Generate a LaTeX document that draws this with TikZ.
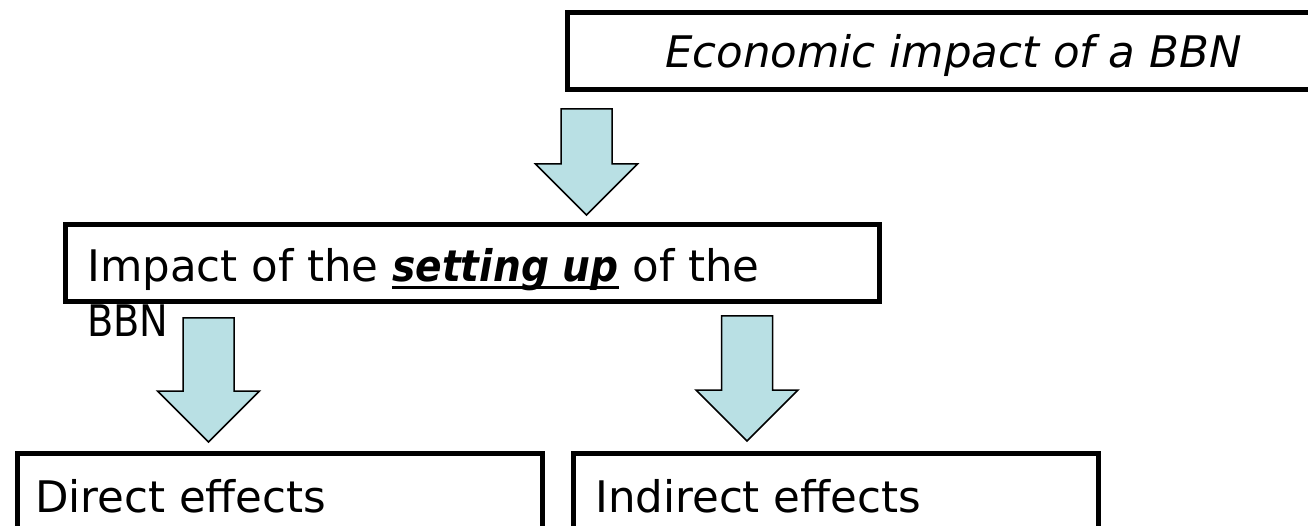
\documentclass[tikz,border=0pt]{standalone}
\usepackage{graphicx}
\usepackage{fontspec}
\setmainfont{DejaVu Sans}
\definecolor{arrowfill}{RGB}{185,224,228}
\newcommand\thickul[1]{\setbox0\hbox{#1}\rlap{\rule[-7pt]{\wd0}{3pt}}\box0\relax}
\tikzset{
  box/.style={draw=black, line width=5pt, fill=white, inner sep=0pt},
  txt/.style={inner sep=0pt, font=\fontsize{43.5}{55}\selectfont, align=left},
  pics/blockarrow/.style={code={
    \draw[black, line width=1.5pt, fill=arrowfill, line join=miter]
      (-25.5,0) -- (25.5,0) -- (25.5,#1) -- (51,#1) -- (0,#1+51) -- (-51,#1) -- (-25.5,#1) -- cycle;
  }}
}
\begin{document}
\begin{tikzpicture}[x=1pt,y=-1pt]
\useasboundingbox (0,0) rectangle (1308,526);
% boxes
\node[box, minimum width=760pt, minimum height=77.5pt, anchor=north west] (top) at (564.5,10) {};
\node[box, minimum width=814.5pt, minimum height=77pt, anchor=north west] (mid) at (62.5,222.5) {};
\node[box, minimum width=525pt, minimum height=90pt, anchor=north west] (dir) at (14.5,450.5) {};
\node[box, minimum width=525pt, minimum height=90pt, anchor=north west] (ind) at (570.5,450.5) {};
% block arrows
\coordinate (a1) at (586.5,109);
\coordinate (a2) at (208.5,318);
\coordinate (a3) at (747,316);
\pic at (a1) {blockarrow=55};
\pic at (a2) {blockarrow=73};
\pic at (a3) {blockarrow=74};
% texts
\node[txt, font=\fontsize{43.5}{55}\selectfont\itshape, anchor=base west] (toptxt) at (665,68) {Economic impact of a BBN};
\node[txt, anchor=base west] (midtxt) at (87,282) {Impact of the \thickul{\scalebox{0.9}[1]{\textbf{\textit{setting up}}}} of the};
\node[txt, anchor=base west] (midtxt2) at (87,337) {\scalebox{0.88}[1]{BBN}};
\node[txt, anchor=base west] (dirtxt) at (35,512) {Direct effects};
\node[txt, anchor=base west] (indtxt) at (595,512) {Indirect effects};
\end{tikzpicture}
\end{document}
